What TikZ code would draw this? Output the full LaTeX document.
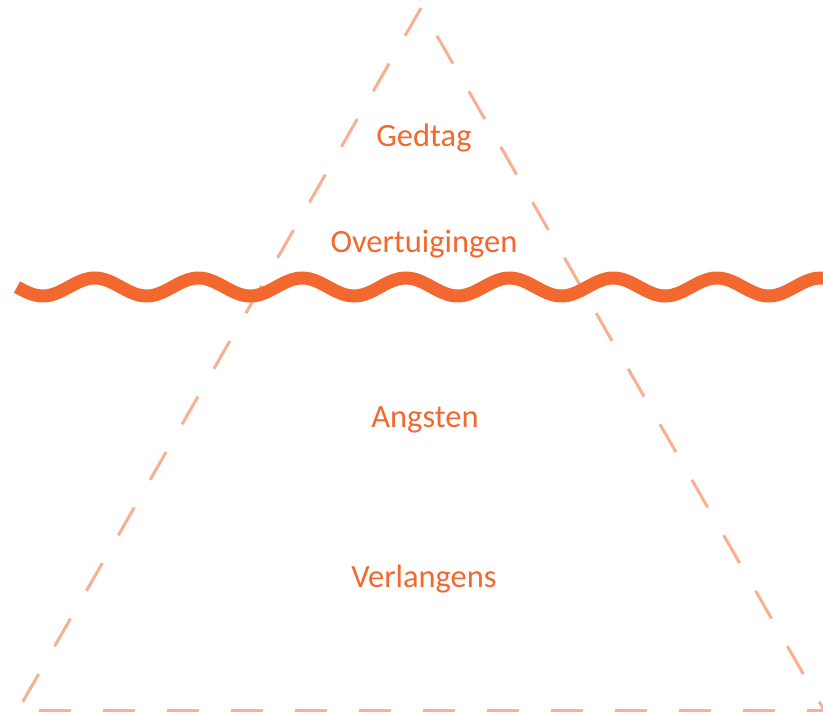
\documentclass[tikz,border=0pt]{standalone}
\usepackage{fontspec}
\setmainfont{Carlito}
\usepackage{xcolor}
\usepackage{tikz}
\definecolor{golf}{RGB}{242,104,46}
\definecolor{randkleur}{RGB}{247,176,146}
\tikzset{randlijn/.style={randkleur, line width=3pt, dash pattern=on 32pt off 32pt},
  laag/.style={golf, font=\fontsize{32.5}{32.5}\selectfont, anchor=base}}

\begin{document}
\begin{tikzpicture}[x=1pt,y=-1pt]
   \useasboundingbox (0,0) rectangle (823,713);
   \coordinate (top) at (421,8);
   \coordinate (links) at (18,710);
   \coordinate (rechts) at (824,710);
   % ijsberg
   \draw[randlijn] (top) -- (links);
   \draw[randlijn, dash phase=32pt] (top) -- (rechts);
   \draw[randlijn, dash phase=43pt] (links) -- (rechts);
   % waterlijn
   \draw[golf, line width=13pt] plot[domain=17:823, samples=240] (\x, {287+9*sin(3.4716*(\x-17))});
   \node[laag] (gedrag) at (424,146) {Gedtag};
   \node[laag] (overtuiging) at (424,252) {Overtuigingen};
   \node[laag] (angst) at (425,427) {Angsten};
   \node[laag] (verlangen) at (424,587) {Verlangens};
\end{tikzpicture}
\end{document}
